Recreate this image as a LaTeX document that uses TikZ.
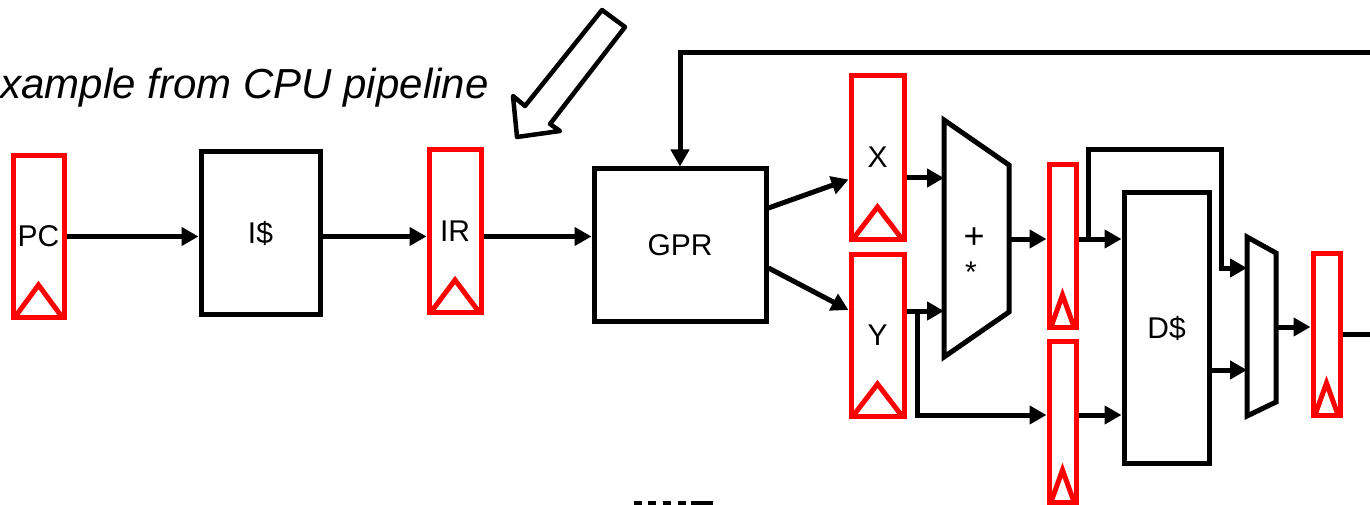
\documentclass[tikz,border=0pt]{standalone}
\usepackage{fontspec}
\setmainfont{Liberation Sans}
\usetikzlibrary{arrows.meta}
\tikzset{
  reg/.style={draw=red, line width=5pt, inner sep=0pt,
    path picture={\draw[red, line width=5pt]
      ([xshift=2pt]path picture bounding box.south west) --
      ([yshift=32pt]path picture bounding box.south) --
      ([xshift=-2pt]path picture bounding box.south east);}},
  unit/.style={draw, line width=5pt, inner sep=0pt},
  conn/.style={line width=5pt, -{Triangle[length=17pt,width=18pt]}},
  wire/.style={line width=5pt},
}
\begin{document}
\begin{tikzpicture}[x=1pt, y=-1pt, every node/.style={font=\fontsize{30}{36}\selectfont}]
    \useasboundingbox (0,0) rectangle (1370,505);
    % pipeline registers
    \foreach \name/\cx/\cy/\w/\h/\txt in {pc/38.5/236.5/51/161/PC, ir/455/231/52/162/IR,
        opx/877.5/157.5/53/163/X, opy/877.5/335/53/162/Y,
        res/1062.5/246/27/162/, sto/1062.5/421.5/27/161/, wb/1326.5/334/27/162/}{
        \node[reg, minimum width=\w pt, minimum height=\h pt] (\name) at (\cx,\cy) {\txt};
    }
    \node[unit, minimum width=119pt, minimum height=162pt] (ic) at (260.5,233) {I\$};
    \node[unit, minimum width=172pt, minimum height=152pt] (gpr) at (680,245) {GPR};
    \node[unit, minimum width=85pt, minimum height=270pt] (dc) at (1166.5,328) {D\$};
    % ALU and mux
    \draw[wire] (944,120) -- (1009,165) -- (1009,312) -- (944,357) -- cycle;
    \node[font=\fontsize{36}{40}\selectfont] (plus) at (974,238) {+};
    \node (times) at (971,272) {*};
    \draw[wire] (1247,237) -- (1276,253) -- (1276,402) -- (1247,416) -- cycle;
    \coordinate (alua) at (944,178);
    \coordinate (alub) at (944,311);
    \coordinate (aluout) at (1009,239);
    \coordinate (muxa) at (1247,268);
    \coordinate (muxb) at (1247,370);
    \coordinate (muxout) at (1276,327);
    \coordinate (ybr) at (917,311);
    \coordinate (resbr) at (1088,239);
    \coordinate (hop) at (1221,150);
    \coordinate (fb) at (1375,53);
    \coordinate (out) at (1375,334);
    % connections
    \draw[conn] (pc.east) -- (pc.east -| ic.west);
    \draw[conn] (ic.east |- pc.east) -- (ir.west |- pc.east);
    \draw[conn] (ir.east |- pc.east) -- (gpr.west |- pc.east);
    \draw[conn] (fb) -| (gpr.north);
    \draw[conn] ([yshift=37pt]gpr.east) -- ([yshift=-22pt]opx.west);
    \draw[conn] ([yshift=-23pt]gpr.east) -- ([yshift=25pt]opy.west);
    \draw[conn] (opx.east |- alua) -- (alua);
    \draw[conn] (opy.east |- alub) -- (alub);
    \draw[conn] (ybr) |- ([yshift=6.5pt]sto.west);
    \draw[conn] (aluout) -- (aluout -| res.west);
    \draw[conn] (res.east |- aluout) -- (dc.west |- aluout);
    \draw[conn] (resbr) |- (hop) |- (muxa);
    \draw[conn] ([yshift=6.5pt]sto.east) -- ([yshift=6.5pt]sto.east -| dc.west);
    \draw[conn] (dc.east |- muxb) -- (muxb);
    \draw[conn] (muxout) -- (muxout -| wb.west);
    \draw[wire] (wb.east) -- (out);
    % caption and hollow arrow
    \node[font=\fontsize{42}{50}\selectfont\itshape, anchor=base east] (title) at (492,99) {xample from CPU pipeline};
    \draw[line width=4.5pt, line join=round] (602,10) -- (625,27) -- (550,124) -- (560,131)
        -- (517,137) -- (513,96) -- (525,106) -- cycle;
    \foreach \a/\b in {634/642, 648/656, 663/671, 678/686, 691/713}
        \fill (\a,501) rectangle (\b,505);
\end{tikzpicture}
\end{document}
